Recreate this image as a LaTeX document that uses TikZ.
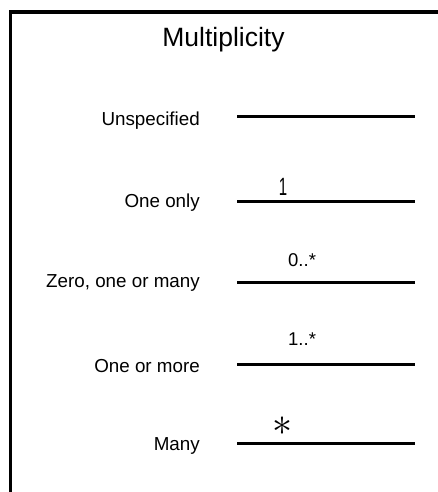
\documentclass[tikz,border=0pt]{standalone}
\usepackage{fontspec}
\setmainfont{Liberation Sans}
\usepackage{graphicx}
\usetikzlibrary{positioning}

\begin{document}
\begin{tikzpicture}[x=1pt,y=-1pt]
  \tikzstyle{lbl}=[anchor=base east,inner sep=0pt,font=\fontsize{18.8}{21}\selectfont]
  \tikzstyle{mult}=[anchor=base west,inner sep=0pt,font=\fontsize{18.5}{21}\selectfont]
  \tikzstyle{mline}=[line width=3pt]
  \useasboundingbox (0,0) rectangle (438,492);

  % frame, open to the right and at the bottom
  \draw[line width=3.2pt] (10.3,492) -- (10.3,12) -- (438,12);
  \node[inner sep=0pt,anchor=base,font=\fontsize{26.5}{30}\selectfont] (title) at (223.5,47) {Multiplicity};

  \node[lbl] (unsp) at (200,125) {Unspecified};
  \node[lbl] (one) at (200,207) {One only};
  \node[lbl] (zero) at (200,287) {Zero, one or many};
  \node[lbl] (more) at (200,372) {One or more};
  \node[lbl] (many) at (200,450) {Many};

  \coordinate (unspA) at (237,117);  \coordinate (unspB) at (415,117);
  \coordinate (oneA) at (237,201);   \coordinate (oneB) at (415,201);
  \coordinate (zeroA) at (237,282);  \coordinate (zeroB) at (415,282);
  \coordinate (moreA) at (237,364);  \coordinate (moreB) at (415,364);
  \coordinate (manyA) at (237,443);  \coordinate (manyB) at (415,443);

  \draw[mline] (unspA) -- (unspB);
  \draw[mline] (oneA) -- (oneB);
  \draw[mline] (zeroA) -- (zeroB);
  \draw[mline] (moreA) -- (moreB);
  \draw[mline] (manyA) -- (manyB);

  \node[inner sep=0pt,anchor=base,font=\fontsize{25}{27}\selectfont,xscale=0.6] (oneM) at (283,195) {1};
  \node[mult] (zeroM) at (288,266) {0..*};
  \node[mult] (moreM) at (288,345) {1..*};
  \node[inner sep=0pt] (manyM) at (282.5,426) {\scalebox{4}{$\ast$}};
\end{tikzpicture}
\end{document}
